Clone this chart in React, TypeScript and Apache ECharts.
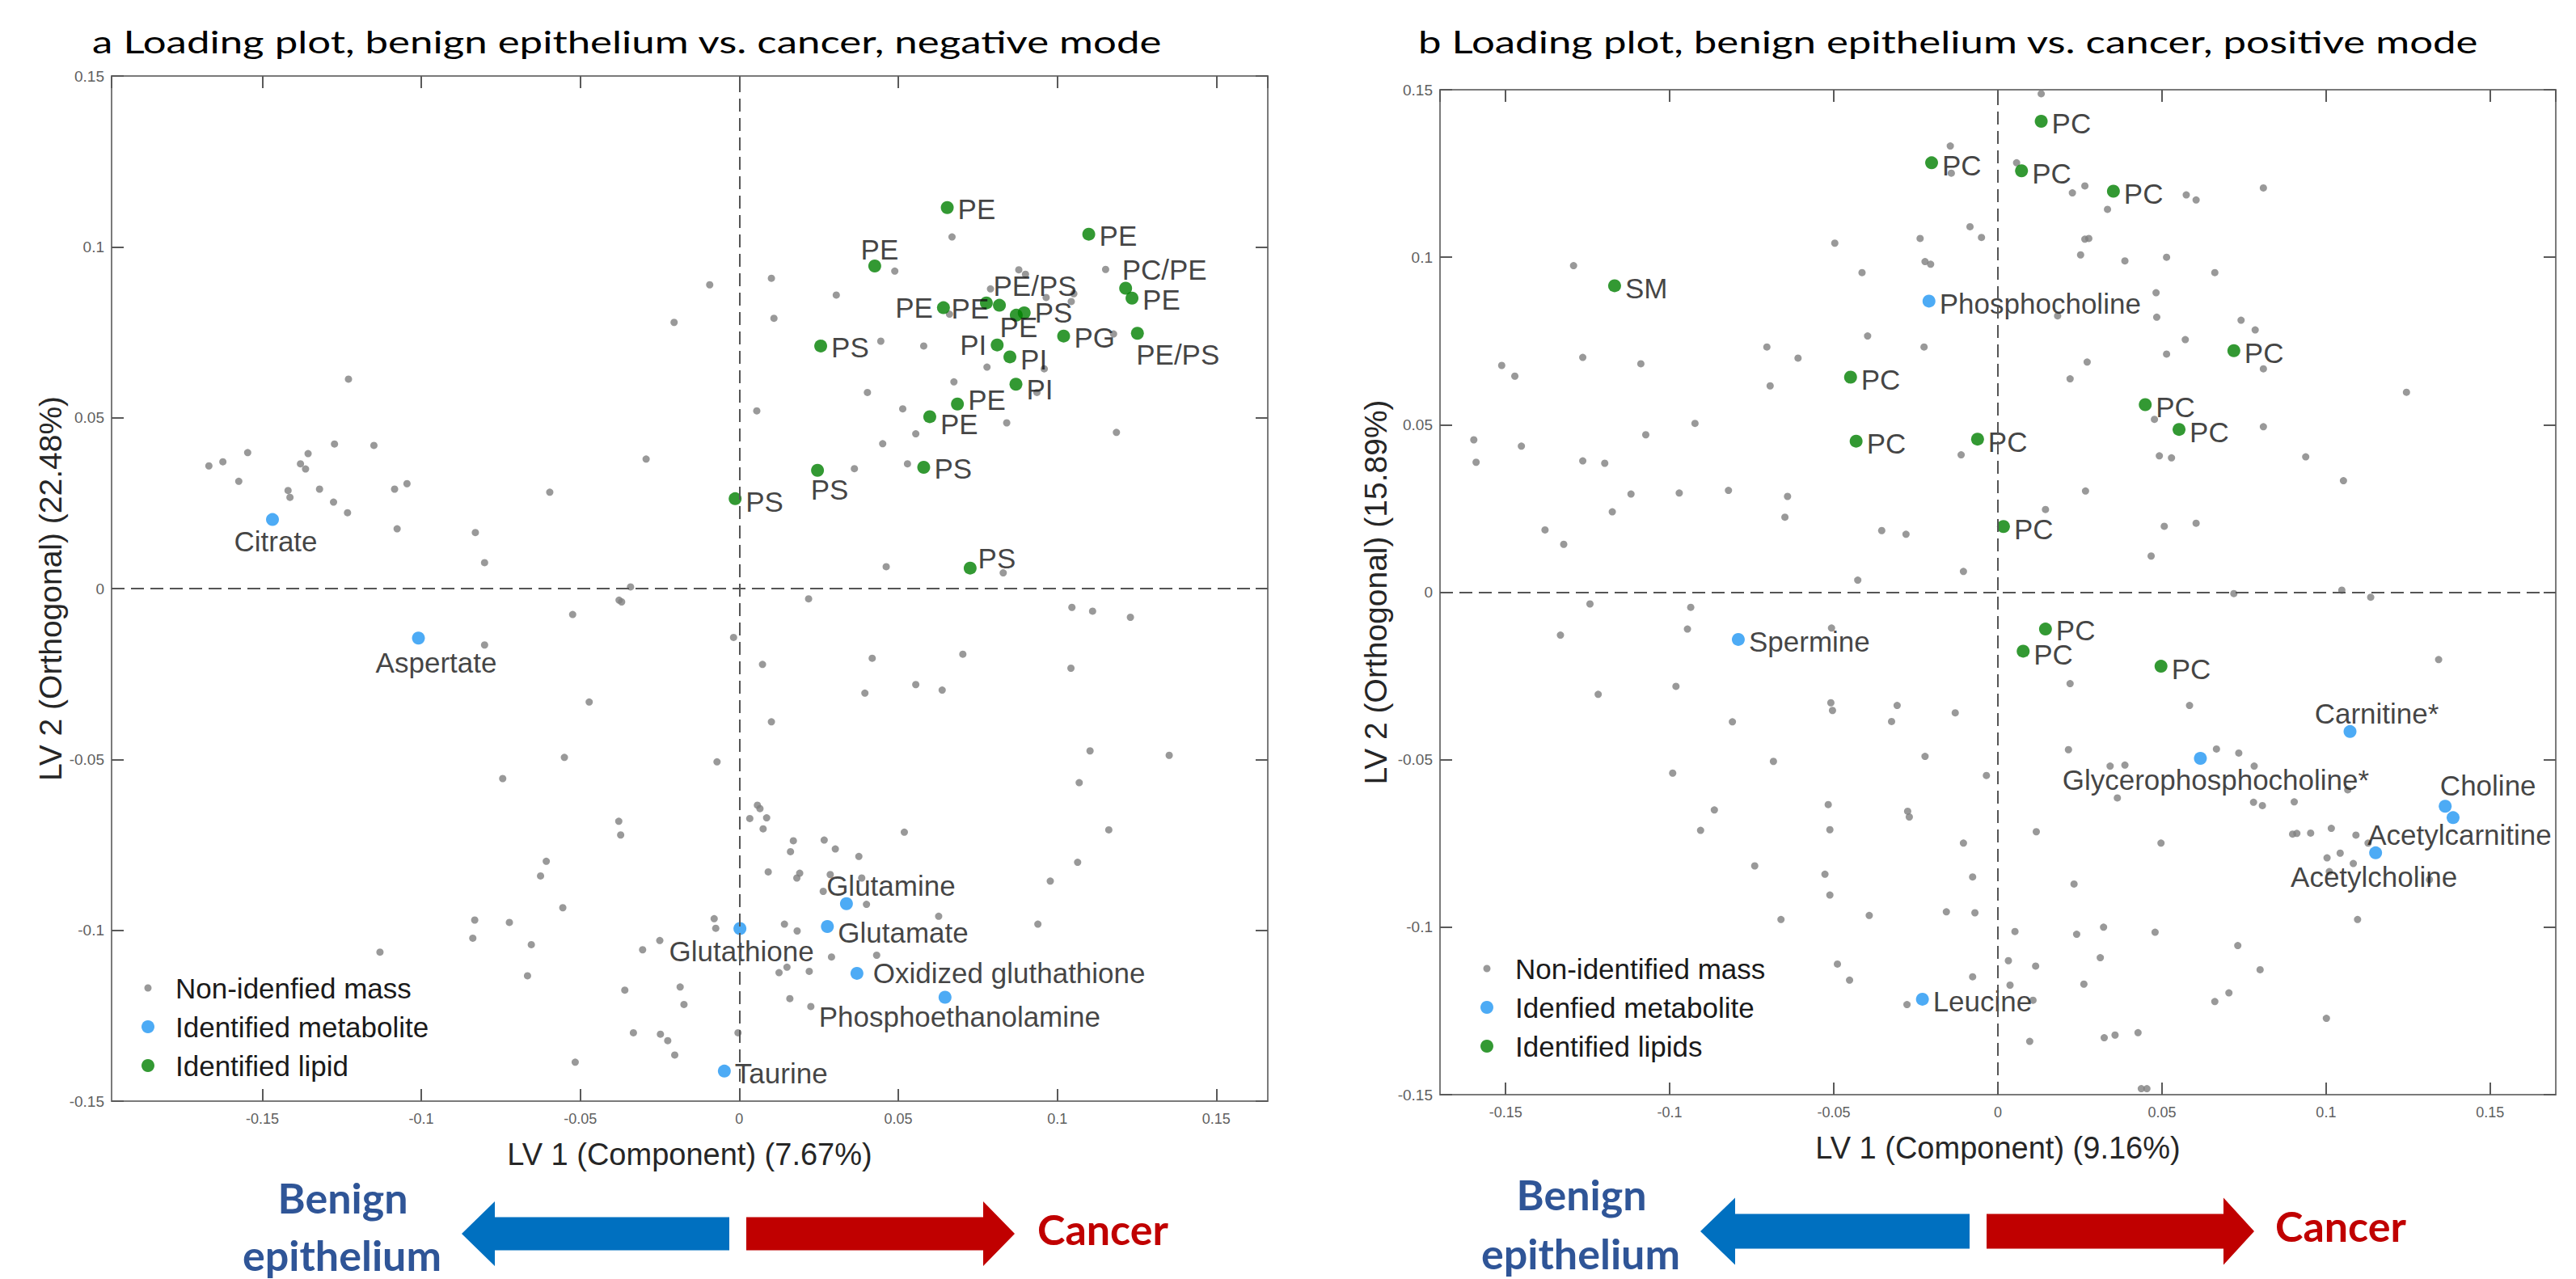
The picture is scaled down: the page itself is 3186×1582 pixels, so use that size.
import React, { useEffect, useRef } from "react";
import * as echarts from "echarts";

const WIDTH = 3186;
const HEIGHT = 1582;
const FONT = "'Liberation Sans', Arial, Helvetica, sans-serif";
const TITLE_FONT = "Lato, 'Open Sans', sans-serif";

// ---------------- Panel a : negative mode ----------------
const titleA = "a Loading plot, benign epithelium vs. cancer, negative mode";
const xNameA = "LV 1 (Component) (7.67%)";
const yNameA = "LV 2 (Orthogonal) (22.48%)";
const legendNamesA = ["Non-idenfied mass", "Identified metabolite", "Identified lipid"];
const xRangeA = [-0.1974, 0.1662];

const massA: [number, number][] = [
  [-0.1668, 0.0359], [-0.1624, 0.0371], [-0.1546, 0.0398], [-0.1574, 0.0314], [-0.1419, 0.0287],
  [-0.1413, 0.0267], [-0.138, 0.0365], [-0.1364, 0.035], [-0.1356, 0.0395], [-0.132, 0.0291],
  [-0.1273, 0.0423], [-0.1276, 0.0253], [-0.1232, 0.0222], [-0.1149, 0.0419], [-0.1084, 0.0291],
  [-0.1045, 0.0307], [-0.1076, 0.0175], [-0.1229, 0.0613], [-0.083, 0.0164], [-0.0801, 0.0076],
  [-0.0596, 0.0282], [-0.0293, 0.0379], [-0.0205, 0.0779], [-0.0093, 0.0889], [0.0101, 0.0908],
  [0.0109, 0.0791], [0.0055, 0.052], [0.0462, 0.0064], [0.083, 0.0046],
  [0.0669, 0.1029], [0.0489, 0.0929], [0.0305, 0.0859], [0.1152, 0.0934], [0.0879, 0.0933],
  [0.09, 0.092], [0.079, 0.0877], [0.0965, 0.0852], [0.1052, 0.0863], [0.1044, 0.084],
  [0.0661, 0.0803], [0.0445, 0.0724], [0.058, 0.071], [0.1177, 0.0745], [0.0779, 0.0648],
  [0.0959, 0.0643], [0.0675, 0.0605], [0.0403, 0.0574], [0.0936, 0.0574], [0.0514, 0.0526],
  [0.0841, 0.0485], [0.1186, 0.0457], [0.0555, 0.0453], [0.0451, 0.0424], [0.0529, 0.0365],
  [0.0362, 0.0351],
  [-0.0342, 0.0005], [-0.0378, -0.0034], [-0.037, -0.0039], [-0.0524, -0.0076], [-0.0801, -0.0165],
  [-0.0018, -0.0143], [0.0218, -0.003], [0.1046, -0.0055], [0.1111, -0.0066], [0.123, -0.0084],
  [0.0073, -0.0222], [0.0418, -0.0204], [0.0703, -0.0192], [0.1043, -0.0233], [0.0555, -0.0281],
  [0.0638, -0.0297], [0.0395, -0.0306], [-0.0472, -0.0332], [0.0101, -0.039], [0.1103, -0.0475],
  [0.1352, -0.0488], [-0.055, -0.0494], [-0.007, -0.0507], [-0.0744, -0.0556], [0.1069, -0.0568],
  [-0.0379, -0.0681], [-0.0373, -0.0721], [0.1162, -0.0706], [-0.0607, -0.0798], [-0.0625, -0.0841],
  [0.1064, -0.0801], [0.0978, -0.0856], [-0.0555, -0.0934], [-0.0832, -0.097], [-0.0723, -0.0977],
  [-0.0838, -0.1023], [0.0939, -0.0982], [-0.0654, -0.1042], [-0.113, -0.1064], [-0.0666, -0.1133],
  [-0.036, -0.1175], [-0.0516, -0.1386],
  [0.0057, -0.0634], [0.0065, -0.0644], [0.0033, -0.0673], [0.0086, -0.0671], [0.0075, -0.0703],
  [0.0519, -0.0713], [0.017, -0.0738], [0.0267, -0.0736], [0.0302, -0.0762], [0.0376, -0.0784],
  [0.0161, -0.077], [0.0091, -0.0829], [0.019, -0.0833], [0.0181, -0.0847], [0.0286, -0.0837],
  [0.0385, -0.0847], [0.0264, -0.0886], [0.04, -0.0924], [0.0627, -0.0959], [-0.0079, -0.0966],
  [-0.0074, -0.0994], [0.0142, -0.0982], [0.0182, -0.1002], [-0.025, -0.103], [-0.0304, -0.1057],
  [0.029, -0.1078], [0.0432, -0.1073], [0.015, -0.1108], [0.0125, -0.1124], [0.022, -0.112],
  [-0.0186, -0.1166], [-0.0174, -0.1217], [0.0159, -0.12], [0.0225, -0.1223], [-0.0333, -0.13],
  [-0.0248, -0.1304], [-0.0225, -0.1323], [-0.0004, -0.13], [-0.0203, -0.1365],
];

const metaboliteNamesA = ["Citrate", "Aspertate", "Glutamine", "Glutamate", "Glutathione", "Oxidized gluthathione", "Phosphoethanolamine", "Taurine"];
const metaboliteXA = [-0.1468, -0.1009, 0.0337, 0.0277, 0.0002, 0.037, 0.0647, -0.0047];
const metaboliteYA = [0.0202, -0.0145, -0.0922, -0.0989, -0.0995, -0.1126, -0.1196, -0.1412];

const lipidNamesA = ["PE", "PE", "PE", "PC/PE", "PE", "PE", "PE/PS", "PE", "PE", "PS", "PG", "PE/PS", "PS", "PI", "PI", "PI", "PE", "PE", "PS", "PS", "PS", "PS"];
const lipidXA = [0.0654, 0.1099, 0.0426, 0.1215, 0.1235, 0.0777, 0.0818, 0.0642, 0.0871, 0.0896, 0.102, 0.1252, 0.0256, 0.0811, 0.0851, 0.087, 0.0686, 0.0599, 0.058, 0.0246, -0.0013, 0.0726];
const lipidYA = [0.1115, 0.1037, 0.0944, 0.0879, 0.085, 0.0836, 0.0829, 0.0822, 0.08, 0.0807, 0.0739, 0.0747, 0.071, 0.0713, 0.0678, 0.0598, 0.054, 0.0503, 0.0355, 0.0346, 0.0263, 0.006];

// ---------------- Panel b : positive mode ----------------
const titleB = "b Loading plot, benign epithelium vs. cancer, positive mode";
const xNameB = "LV 1 (Component) (9.16%)";
const yNameB = "LV 2 (Orthogonal) (15.89%)";
const legendNamesB = ["Non-identified mass", "Idenfied metabolite", "Identified lipids"];
const xRangeB = [-0.17, 0.17];
const yRange = [-0.15, 0.15];

const massB: [number, number][] = [
  [0.0132, 0.1488], [-0.0145, 0.1332], [-0.0142, 0.1251], [0.0057, 0.1282], [0.0227, 0.1192],
  [0.0265, 0.1213], [0.0334, 0.1143], [0.0574, 0.1186], [0.0604, 0.1171], [0.0809, 0.1207],
  [-0.0497, 0.1042], [-0.0237, 0.1056], [-0.0085, 0.1091], [-0.005, 0.1059], [0.0265, 0.1054],
  [0.0277, 0.1056], [0.0252, 0.1007], [0.0387, 0.0989], [0.0514, 0.1], [0.0661, 0.0954],
  [-0.0222, 0.0987], [-0.0205, 0.0979], [-0.0414, 0.0954], [-0.1293, 0.0975], [0.0482, 0.0894],
  [0.0182, 0.0825], [0.0484, 0.0821], [0.0741, 0.0812], [0.0784, 0.0783], [0.0571, 0.0754],
  [0.0514, 0.0711], [0.0809, 0.0667], [0.0272, 0.0687], [0.022, 0.0637], [-0.0704, 0.0732],
  [-0.0609, 0.0699], [-0.0397, 0.0765], [-0.0225, 0.0732], [-0.1512, 0.0677], [-0.1472, 0.0645],
  [-0.1265, 0.0701], [-0.1088, 0.0682], [-0.0694, 0.0616], [0.1245, 0.0597], [-0.0923, 0.0504],
  [-0.1073, 0.047], [-0.1597, 0.0455], [-0.1452, 0.0436], [-0.159, 0.0388], [-0.1265, 0.0392],
  [-0.1198, 0.0385], [-0.0112, 0.041], [0.0492, 0.0407], [0.0529, 0.0401], [0.0809, 0.0494],
  [0.0938, 0.0404], [0.1053, 0.0333], [0.0477, 0.0516], [-0.1118, 0.0293], [-0.0971, 0.0296],
  [-0.0821, 0.0304], [-0.0641, 0.0286], [-0.0649, 0.0224], [-0.1175, 0.024], [-0.138, 0.0186],
  [-0.1323, 0.0143], [-0.0354, 0.0184], [-0.028, 0.0173], [0.0145, 0.0247], [0.0267, 0.0302],
  [0.0507, 0.0197], [0.0604, 0.0206], [0.0467, 0.0108], [-0.0427, 0.0036], [-0.0105, 0.0062],
  [0.1048, 0.0006], [0.0719, -0.0004], [0.1136, -0.0015],
  [-0.1243, -0.0035], [-0.0936, -0.0045], [-0.1333, -0.0128], [-0.0946, -0.011], [-0.0507, -0.0107],
  [0.1343, -0.0201], [0.022, -0.0273], [-0.0981, -0.0281], [-0.1218, -0.0305], [-0.0509, -0.033],
  [-0.0504, -0.0353], [-0.0307, -0.0338], [-0.013, -0.036], [-0.0324, -0.0386], [-0.0809, -0.0387],
  [0.0584, -0.0338], [0.0215, -0.047], [0.0666, -0.0468], [0.0734, -0.048], [-0.0222, -0.049],
  [-0.0684, -0.0505], [0.0342, -0.0519], [0.0387, -0.0516], [0.0781, -0.0519], [-0.0991, -0.054],
  [-0.0035, -0.0547], [0.0364, -0.0614], [0.0779, -0.0627], [0.0806, -0.0637], [0.0903, -0.0626],
  [0.1066, -0.059], [-0.0517, -0.0634], [-0.0275, -0.0654], [-0.027, -0.0671], [-0.0864, -0.065],
  [-0.0906, -0.0711], [-0.0512, -0.0709], [0.0117, -0.0715], [0.0898, -0.0722], [0.0911, -0.072],
  [0.0953, -0.0719], [0.1016, -0.0705], [0.1091, -0.0725], [0.1128, -0.0749], [0.0497, -0.0749],
  [-0.0105, -0.0749], [0.1043, -0.0779], [0.1003, -0.0793], [0.1083, -0.081], [0.101, -0.0834],
  [0.1315, -0.0858], [-0.0741, -0.0817], [-0.0527, -0.0842], [-0.0077, -0.085], [0.0232, -0.0871],
  [-0.0512, -0.0904], [-0.0661, -0.0977], [-0.0392, -0.0965], [-0.0157, -0.0954], [-0.007, -0.0957],
  [0.1096, -0.0977], [0.0052, -0.1013], [0.024, -0.1021], [0.0322, -0.1], [0.0479, -0.1015],
  [0.0731, -0.1055], [0.0032, -0.11], [0.0115, -0.1116], [0.0312, -0.1091], [0.0799, -0.1127],
  [-0.0489, -0.111], [-0.0452, -0.1158], [-0.0077, -0.1148], [0.0037, -0.1173], [0.0262, -0.117],
  [0.0704, -0.1196], [0.0661, -0.1222], [-0.0277, -0.1231], [0.0107, -0.1218], [0.1001, -0.1272],
  [0.0324, -0.133], [0.0357, -0.1322], [0.0427, -0.1315], [0.0097, -0.1341], [0.0437, -0.1482],
  [0.0454, -0.1482],
];

const metaboliteNamesB = ["Phosphocholine", "Spermine", "Carnitine*", "Glycerophosphocholine*", "Choline", "Acetylcarnitine", "Acetylcholine", "Leucine"];
const metaboliteXB = [-0.021, -0.0791, 0.1073, 0.0617, 0.1363, 0.1387, 0.1151, -0.023];
const metaboliteYB = [0.0869, -0.0141, -0.0416, -0.0496, -0.0639, -0.0673, -0.0778, -0.1215];

const lipidNamesB = ["PC", "PC", "PC", "PC", "SM", "PC", "PC", "PC", "PC", "PC", "PC", "PC", "PC", "PC", "PC"];
const lipidXB = [0.0132, -0.0202, 0.0072, 0.0352, -0.1168, 0.0719, -0.0449, 0.0449, 0.0552, -0.0432, -0.0062, 0.0017, 0.0145, 0.0077, 0.0497];
const lipidYB = [0.1406, 0.1282, 0.1258, 0.1197, 0.0915, 0.0721, 0.0642, 0.056, 0.0486, 0.0451, 0.0457, 0.0196, -0.011, -0.0176, -0.0221];

// ---------------- label placement (style, kept apart from data) ----------------
type Place = [string, number, number];
const metaboliteLabelA: Place[] = [["inside", 4, 27], ["inside", 22, 30], ["inside", 55, -22], ["right", 0, 7], ["inside", 2, 28], ["right", 7, 0], ["inside", 18, 24], ["right", 0, 3]];
const lipidLabelA: Place[] = [
  ["right", 0, 2], ["right", 0, 2], ["inside", 6, -21], ["inside", 48, -23], ["right", 0, 2], ["inside", -20, 7],
  ["inside", 44, -24], ["left", 0, 0], ["inside", 3, 15], ["right", 0, 0], ["right", 0, 2], ["inside", 50, 26],
  ["right", 0, 2], ["left", 0, 0], ["right", 0, 3], ["right", 0, 6], ["right", 0, -5], ["right", 0, 9],
  ["right", 0, 2], ["inside", 15, 24], ["right", 0, 4], ["inside", 33, -12],
];
const metaboliteLabelB: Place[] = [["right", 0, 3], ["right", 0, 3], ["inside", 33, -22], ["inside", 19, 26], ["inside", 53, -26], ["inside", 8, 21], ["inside", -2, 30], ["right", 0, 3]];
const lipidLabelB: Place[] = lipidNamesB.map((_, i) => (i === 12 ? ["right", 0, 1] : i === 13 ? ["right", 0, 4] : ["right", 0, 3]) as Place);

const GREY = "#7f7f7f";
const BLUE = "#2196f3";
const GREEN = "#007f00";

function labelled(names: string[], xs: number[], ys: number[], places: Place[]) {
  return names.map((n, i) => ({
    name: n,
    value: [xs[i], ys[i]],
    label: { position: places[i][0], offset: [places[i][1], places[i][2]] },
  }));
}

function tickFormat(v: number) {
  const k = v / 0.05;
  if (Math.abs(k - Math.round(k)) > 1e-6) return "";
  return String(parseFloat(v.toFixed(4)));
}

function axesFor(gridIndex: number, xRange: number[], xName: string, yName: string, yGap: number) {
  const line = { show: true, onZero: false, lineStyle: { color: "#7a7a7a", width: 2 } };
  const tick = { show: true, inside: true, length: 15, lineStyle: { color: "#5a5a5a", width: 2 } };
  const xBase: any = {
    type: "value", gridIndex, min: xRange[0], max: xRange[1], splitNumber: 7,
    splitLine: { show: false }, axisLine: line, axisTick: tick,
  };
  const yBase: any = {
    type: "value", gridIndex, min: yRange[0], max: yRange[1], interval: 0.05,
    splitLine: { show: false }, axisLine: line, axisTick: tick,
  };
  return {
    x: [
      {
        ...xBase, position: "bottom",
        axisLabel: { show: true, fontSize: 18, color: "#606060", fontFamily: FONT, margin: 13, showMinLabel: false, showMaxLabel: false, formatter: tickFormat },
        name: xName, nameLocation: "middle", nameGap: 47,
        nameTextStyle: { fontSize: 38, color: "#262626", fontFamily: FONT },
      },
      { ...xBase, position: "top", axisLabel: { show: false } },
    ],
    y: [
      {
        ...yBase, position: "left",
        axisLabel: { show: true, fontSize: 19, color: "#606060", fontFamily: FONT, margin: 9 },
        name: yName, nameLocation: "middle", nameGap: yGap,
        nameTextStyle: { fontSize: 39, color: "#262626", fontFamily: FONT },
      },
      { ...yBase, position: "right", axisLabel: { show: false } },
    ],
  };
}

const pointLabel = {
  show: true, formatter: "{b}", fontSize: 35, lineHeight: 28, fontFamily: FONT, color: "#111",
  distance: 5, textBorderWidth: 0,
};

function seriesFor(axisIndex: number, names: string[], mass: [number, number][],
  mNames: string[], mX: number[], mY: number[], mPlace: Place[],
  lNames: string[], lX: number[], lY: number[], lPlace: Place[]) {
  return [
    {
      name: names[0], type: "scatter", xAxisIndex: axisIndex, yAxisIndex: axisIndex,
      symbolSize: 9, itemStyle: { color: GREY }, data: mass, z: 2,
      markLine: {
        silent: true, symbol: ["none", "none"], label: { show: false },
        lineStyle: { type: [16, 8], color: "#555", width: 2 },
        data: [{ xAxis: 0 }, { yAxis: 0 }],
      },
    },
    {
      name: names[1], type: "scatter", xAxisIndex: axisIndex, yAxisIndex: axisIndex,
      symbolSize: 16, itemStyle: { color: BLUE }, label: pointLabel, z: 4,
      data: labelled(mNames, mX, mY, mPlace),
    },
    {
      name: names[2], type: "scatter", xAxisIndex: axisIndex, yAxisIndex: axisIndex,
      symbolSize: 16, itemStyle: { color: GREEN }, label: pointLabel, z: 4,
      data: labelled(lNames, lX, lY, lPlace),
    },
  ];
}

function legendFor(names: string[], left: number, top: number, w: number) {
  const small = `path://M0,0M${w},16M${w / 2},3.5A4.5,4.5,0,1,1,${w / 2},12.5A4.5,4.5,0,1,1,${w / 2},3.5Z`;
  return {
    orient: "vertical", left, top, itemWidth: w, itemHeight: 16, itemGap: 8, padding: 0,
    selectedMode: false,
    textStyle: { fontSize: 35, fontFamily: FONT, color: "#1a1a1a", lineHeight: 40 },
    data: [{ name: names[0], icon: small }, { name: names[1], icon: "circle" }, { name: names[2], icon: "circle" }],
  };
}

function arrowPoints(tipX: number, baseX: number, endX: number, cy: number, shaftHalf: number, headHalf: number) {
  return [
    [tipX, cy], [baseX, cy - headHalf], [baseX, cy - shaftHalf], [endX, cy - shaftHalf],
    [endX, cy + shaftHalf], [baseX, cy + shaftHalf], [baseX, cy + headHalf],
  ];
}

function txt(text: string, x: number, y: number, size: number, fill: string, weight: string, align: string, family: string, scaleX = 1) {
  return {
    type: "text", x, y, scaleX, silent: true,
    style: { text, fontSize: size, fontWeight: weight, fontFamily: family, fill, align, textAlign: align, verticalAlign: "middle", textVerticalAlign: "middle" },
  };
}

function buildOption() {
  const axA = axesFor(0, xRangeA, xNameA, yNameA, 56);
  const axB = axesFor(1, xRangeB, xNameB, yNameB, 60);
  const BENIGN = "#2f5597";
  const CANCER = "#c00000";
  return {
    animation: false,
    backgroundColor: "#ffffff",
    textStyle: { fontFamily: FONT },
    grid: [
      { left: 138, top: 94, width: 1430, height: 1268, outerBoundsMode: "none", containLabel: false },
      { left: 1781, top: 111, width: 1380, height: 1243, outerBoundsMode: "none", containLabel: false },
    ],
    xAxis: [...axA.x, ...axB.x],
    yAxis: [...axA.y, ...axB.y],
    legend: [legendFor(legendNamesA, 154, 1202, 58), legendFor(legendNamesB, 1809, 1178, 60)],
    series: [
      ...seriesFor(0, legendNamesA, massA, metaboliteNamesA, metaboliteXA, metaboliteYA, metaboliteLabelA, lipidNamesA, lipidXA, lipidYA, lipidLabelA),
      ...seriesFor(2, legendNamesB, massB, metaboliteNamesB, metaboliteXB, metaboliteYB, metaboliteLabelB, lipidNamesB, lipidXB, lipidYB, lipidLabelB),
    ],
    graphic: {
      elements: [
        txt(titleA, 114, 51, 39, "#000", "normal", "left", TITLE_FONT, 1.307),
        txt(titleB, 1754, 51, 39, "#000", "normal", "left", TITLE_FONT, 1.307),
        { type: "polygon", silent: true, shape: { points: arrowPoints(571, 612, 902, 1526, 20.5, 40) }, style: { fill: "#0070c0" } },
        { type: "polygon", silent: true, shape: { points: arrowPoints(1255, 1216, 923, 1526, 20.5, 40) }, style: { fill: CANCER } },
        { type: "polygon", silent: true, shape: { points: arrowPoints(2103, 2146, 2436, 1523, 21.5, 41.5) }, style: { fill: "#0070c0" } },
        { type: "polygon", silent: true, shape: { points: arrowPoints(2788, 2750, 2457, 1523, 21.5, 41.5) }, style: { fill: CANCER } },
        txt("Benign", 424, 1481, 52, BENIGN, "bold", "center", TITLE_FONT),
        txt("epithelium", 423, 1552, 52, BENIGN, "bold", "center", TITLE_FONT),
        txt("Cancer", 1283, 1520, 52, CANCER, "bold", "left", TITLE_FONT),
        txt("Benign", 1956, 1477, 52, BENIGN, "bold", "center", TITLE_FONT),
        txt("epithelium", 1955, 1550, 52, BENIGN, "bold", "center", TITLE_FONT),
        txt("Cancer", 2814, 1516, 52, CANCER, "bold", "left", TITLE_FONT),
      ],
    },
  };
}

export default function App() {
  const ref = useRef<HTMLDivElement>(null);
  useEffect(() => {
    document.body.style.margin = "0";
    const chart = echarts.init(ref.current as HTMLDivElement, null, { renderer: "svg", width: WIDTH, height: HEIGHT });
    chart.setOption(buildOption() as any);
    return () => chart.dispose();
  }, []);
  return (
    <div
      ref={ref}
      style={{ position: "fixed", left: 0, top: 0, width: WIDTH, height: HEIGHT, background: "#fff" }}
    />
  );
}
